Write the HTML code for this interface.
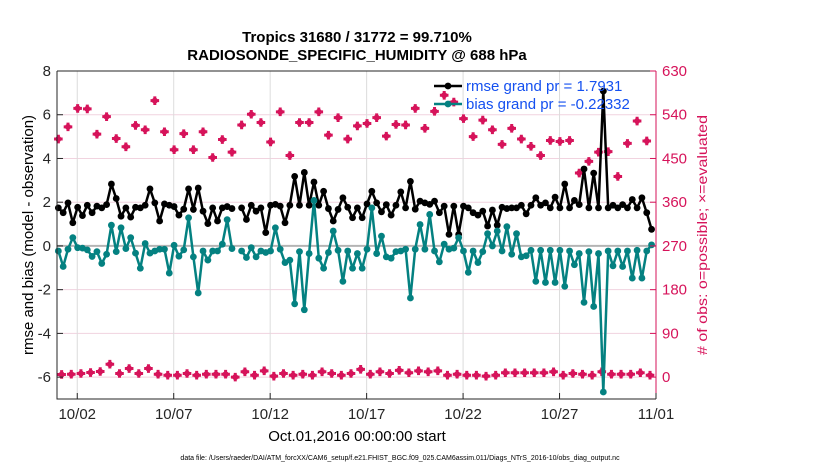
<!DOCTYPE html>
<html><head><meta charset="utf-8"><style>
html,body{margin:0;padding:0;background:#fff;}
svg{display:block;font-family:"Liberation Sans",Arial,sans-serif;}
</style></head><body>
<svg id="chart" width="830" height="470" viewBox="0 0 830 470" xmlns="http://www.w3.org/2000/svg">
<g id="grid"></g>
<g id="series"></g>
<g id="axes"></g>
<text x="357" y="42" text-anchor="middle" font-size="15" font-weight="bold">Tropics 31680 / 31772 = 99.710%</text>
<text x="357" y="60" text-anchor="middle" font-size="15" font-weight="bold">RADIOSONDE_SPECIFIC_HUMIDITY @ 688 hPa</text>
<text transform="translate(33,235) rotate(-90)" text-anchor="middle" font-size="15">rmse and bias (model - observation)</text>
<text transform="translate(707,235) rotate(-90)" text-anchor="middle" font-size="14" fill="#d6135a" textLength="240" lengthAdjust="spacingAndGlyphs"># of obs: o=possible; ×=evaluated</text>
<text x="357" y="441" text-anchor="middle" font-size="15">Oct.01,2016 00:00:00 start</text>
<text x="400" y="460" text-anchor="middle" font-size="7">data file: /Users/raeder/DAI/ATM_forcXX/CAM6_setup/f.e21.FHIST_BGC.f09_025.CAM6assim.011/Diags_NTrS_2016-10/obs_diag_output.nc</text>
<g id="legend"></g>
</svg>
<script>
const rmse = [1.74,1.52,1.97,1.06,1.77,1.39,1.86,1.52,1.82,1.74,1.89,2.83,2.17,1.36,1.74,1.32,1.77,1.74,1.86,2.61,1.97,1.14,1.92,1.86,1.8,1.41,1.68,2.61,1.67,2.65,1.59,1.02,1.74,1.14,1.74,1.8,1.71,null,1.74,1.21,
1.86,1.59,1.74,0.61,1.86,1.9,1.82,1.06,1.86,3.18,1.86,3.36,1.86,2.92,1.86,2.5,1.71,1.14,1.67,2.2,1.77,1.29,1.74,1.29,1.92,2.5,1.97,1.56,1.89,1.41,1.86,2.47,1.74,2.95,1.68,2.05,1.97,1.9,2.05,1.52,1.82,0.53,
1.82,0.53,1.82,1.74,1.52,1.41,1.59,0.91,1.64,0.95,1.77,1.71,1.74,1.74,1.86,1.47,1.86,2.2,1.86,1.97,1.74,2.23,1.74,2.83,1.74,2.08,1.89,3.52,1.74,3.33,1.74,7.08,1.74,1.86,1.74,1.89,1.74,2.12,1.74,2.2,1.52,0.76];
const bias = [-0.23,-0.94,-0.15,0.38,-0.08,-0.1,-0.18,-0.48,-0.26,-0.8,-0.38,0.95,-0.26,0.83,-0.12,0.38,-0.33,-1.02,0.11,-0.33,-0.23,-0.15,-0.15,-1.24,0.03,-0.47,-0.18,1.29,-0.5,-2.15,-0.23,-0.65,-0.23,-0.23,0.08,1.2,-0.12,null,-0.23,-0.53,
-0.08,-0.5,-0.23,-0.3,-0.23,0.83,-0.15,-0.76,-0.65,-2.65,-0.26,-2.92,-0.35,2.08,-0.56,-1.02,-0.3,0.68,-0.2,-1.62,-0.23,-1.02,-0.35,-1.02,-0.15,1.74,-0.35,0.45,-0.5,-0.56,-0.26,-0.23,-0.15,-2.38,-0.15,0.98,-0.15,1.44,-0.23,-0.73,0.08,-0.15,
-0.1,0.38,-0.23,-1.21,-0.23,-0.76,-0.26,0.56,0,0.68,-0.23,0.88,-0.38,0.56,-0.5,-0.45,-0.2,-1.62,-0.2,-1.67,-0.2,-1.67,-0.2,-1.85,-0.23,-0.86,-0.35,-2.58,-0.26,-2.77,-0.35,-6.68,-0.23,-0.91,-0.23,-0.94,-0.23,-1.47,-0.2,-1.47,-0.23,0.05];
const possible = [490,515,553,552,500,536,491,474,518,509,569,505,468,501,468,505,452,489,463,519,541,
524,484,546,456,524,524,546,498,534,490,517,522,534,496,520,519,553,512,547,580,
566,532,495,529,509,479,512,490,475,456,487,485,487,420,444,463,464,413,481,527,486];
const evaluated = [5.5,6,7.5,9.5,11.6,26.6,7.5,17.7,7.5,17.7,6,4,4,7.5,4,6,6,6,0,11,4,
13,2,7.5,4,6,4,11,7.5,4,7.5,16,6,11,7.5,14,9,13,11,13,4,
6,4,4,2,4,9,9,9,9,9,11,4,7.5,6,4,11,6,6,6,9,4];
const xTickDays = [1,6,11,16,21,26,31];
const xTickLabels = ["10/02","10/07","10/12","10/17","10/22","10/27","11/01"];
const yTicks = [8,6,4,2,0,-2,-4,-6];
const rTicks = [630,540,450,360,270,180,90,0];
const legendLabels = ["rmse grand pr = 1.7931","bias grand pr = -0.22332"];

const NS="http://www.w3.org/2000/svg";
const L=57,R=656,T=71,B=399;
const xMin=-0.05,xMax=31,yMin=-7,yMax=8;
const X=d=>L+(d-xMin)/(xMax-xMin)*(R-L);
const Y=v=>T+(yMax-v)/(yMax-yMin)*(B-T);
const YR=r=>Y(-6+r/45);
const tOf=i=>0.02+i*0.25;
function mk(tag,attrs,parent){const e=document.createElementNS(NS,tag);for(const k in attrs)e.setAttribute(k,attrs[k]);parent.appendChild(e);return e;}
const grid=document.getElementById('grid'),series=document.getElementById('series'),axes=document.getElementById('axes'),legend=document.getElementById('legend');

rTicks.forEach(r=>{const l=mk('line',{x1:L,x2:R,y1:YR(r),y2:YR(r),stroke:'#f1d3df','stroke-width':1},grid);

});
xTickDays.forEach(d=>{const l=mk('line',{x1:X(d),x2:X(d),y1:T,y2:B,stroke:'#dcdcdc','stroke-width':1},grid);

});
const z=mk('line',{x1:L,x2:R,y1:Y(0),y2:Y(0),stroke:'#b4b4b4','stroke-width':2},grid);



function plus(cx,cy,s,color,parent,name){
  const p=mk('path',{d:`M${cx-s} ${cy}H${cx+s}M${cx} ${cy-s}V${cy+s}`,stroke:color,'stroke-width':3},parent);
  
  
  const c=mk('circle',{cx:cx,cy:cy,r:3,fill:color},parent);
  
  
}
possible.forEach((v,k)=>plus(X(tOf(2*k)),YR(v),4.3,'#d6135a',series,'possible-marker'));
evaluated.forEach((v,k)=>plus(X(0.19+0.5*k),YR(v),4.3,'#d6135a',series,'evaluated-marker'));

function line(data,color,name){
  let d='';let pen=false;
  data.forEach((v,i)=>{if(v===null){pen=false;return;}d+=(pen?'L':'M')+X(tOf(i)).toFixed(1)+' '+Y(v).toFixed(1);pen=true;});
  const p=mk('path',{d:d,fill:'none',stroke:color,'stroke-width':2.5,'stroke-linejoin':'round'},series);
  
  
  data.forEach((v,i)=>{if(v===null)return;const c=mk('circle',{cx:X(tOf(i)),cy:Y(v),r:3.4,fill:color},series);
  
  });
}
line(rmse,'#000','rmse');
line(bias,'#048181','bias');

const box=mk('path',{d:`M${L} ${T}H${R}M${L} ${T}V${B}H${R}`,stroke:'#262626',fill:'none','stroke-width':1},axes);


const rs=mk('line',{x1:R,x2:R,y1:T,y2:B,stroke:'#d6135a','stroke-width':1},axes);


yTicks.forEach(v=>{
  const t=mk('line',{x1:L,x2:L+6,y1:Y(v),y2:Y(v),stroke:'#262626'},axes);
  
  
  const tx=mk('text',{x:L-6,y:Y(v)+5,'text-anchor':'end','font-size':15,fill:'#262626'},axes);tx.textContent=v;
  
  
});
rTicks.forEach(r=>{
  const t=mk('line',{x1:R-6,x2:R,y1:YR(r),y2:YR(r),stroke:'#d6135a'},axes);
  
  
  const tx=mk('text',{x:R+6,y:YR(r)+5,'text-anchor':'start','font-size':15,fill:'#d6135a'},axes);tx.textContent=r;
  
  
});
xTickDays.forEach((d,i)=>{
  const t=mk('line',{x1:X(d),x2:X(d),y1:B-6,y2:B,stroke:'#262626'},axes);
  
  
  const tx=mk('text',{x:X(d),y:B+20,'text-anchor':'middle','font-size':15,fill:'#262626'},axes);tx.textContent=xTickLabels[i];
  
  
});
[['#000',91],['#048181',109]].forEach((s,i)=>{
  const l=mk('line',{x1:434,x2:462,y1:s[1]-5,y2:s[1]-5,stroke:s[0],'stroke-width':2.5},legend);
  
  
  const c=mk('circle',{cx:448,cy:s[1]-5,r:3.4,fill:s[0]},legend);
  
  
  const tx=mk('text',{x:466,y:s[1],'font-size':15,fill:'#1450f0'},legend);tx.textContent=legendLabels[i];
  
  
});
</script>
</body></html>
